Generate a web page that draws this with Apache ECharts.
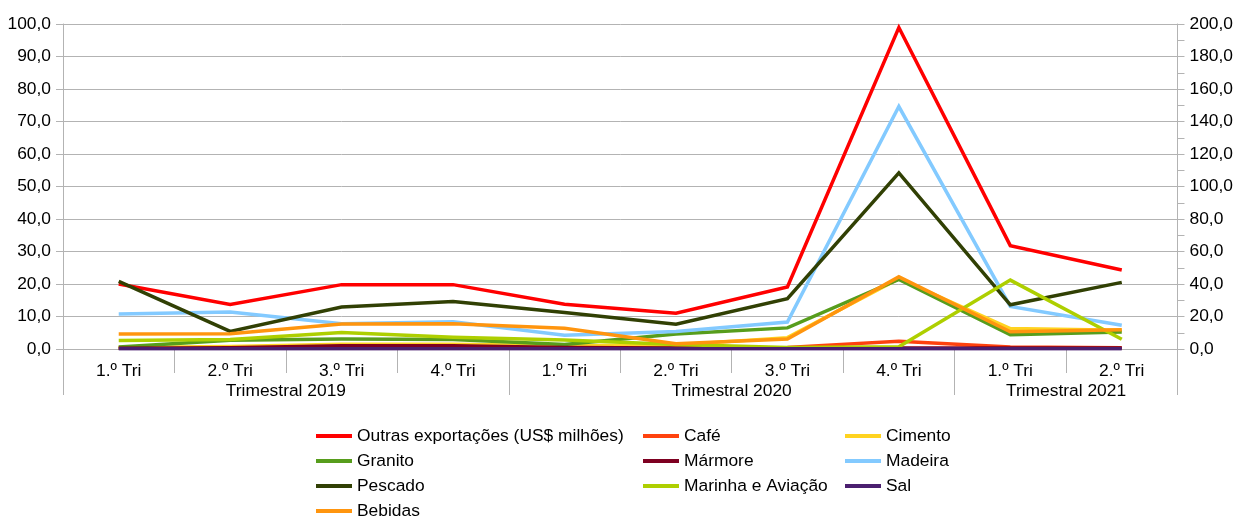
<!DOCTYPE html>
<html>
<head>
<meta charset="utf-8">
<script src="https://cdn.jsdelivr.net/npm/echarts@6/dist/echarts.min.js"></script>
<style>
  html, body { margin: 0; padding: 0; background: #fff; }
  #chart { width: 1236px; height: 518px; }
</style>
</head>
<body>
<div id="chart"></div>
<script>
// Quarters on the x axis, grouped by year
const quarters = ['1.º Tri', '2.º Tri', '3.º Tri', '4.º Tri', '1.º Tri', '2.º Tri', '3.º Tri', '4.º Tri', '1.º Tri', '2.º Tri'];
const yearGroups = ['Trimestral 2019', 'Trimestral 2020', 'Trimestral 2021'];
const quartersPerGroup = [4, 4, 2];

// Export values per product
const outras   = [20.0, 13.7, 19.8, 19.8, 13.8, 11.0, 19.1, 98.9, 31.8, 24.3];
const cafe     = [0.3, 0.3, 0.5, 0.5, 0.4, 0.3, 0.5, 2.4, 0.6, 0.4];
const cimento  = [0.5, 0.8, 1.5, 1.5, 1.0, 1.2, 3.5, 21.6, 6.3, 5.8];
const granito  = [0.6, 2.7, 3.1, 2.9, 1.4, 4.6, 6.5, 21.4, 4.4, 5.2];
const marmore  = [0.2, 0.4, 1.0, 1.0, 0.5, 0.3, 0.3, 0.3, 0.3, 0.3];
const madeira  = [10.8, 11.4, 7.8, 8.4, 4.2, 5.4, 8.3, 74.6, 13.1, 7.3];
const pescado  = [20.8, 5.4, 12.9, 14.6, 11.2, 7.6, 15.5, 54.2, 13.6, 20.5];
const marinha  = [2.6, 2.9, 5.1, 3.6, 2.8, 1.4, 0.5, 0.7, 21.2, 3.0];
const sal      = [0.1, 0.1, 0.1, 0.1, 0.1, 0.1, 0.1, 0.1, 0.1, 0.1];
const bebidas  = [4.6, 4.7, 7.7, 7.8, 6.4, 1.6, 3.1, 22.2, 5.3, 5.9];

const seriesDefs = [
  ['Outras exportações (US$ milhões)', outras, '#ff0000'],
  ['Café', cafe, '#ff420e'],
  ['Cimento', cimento, '#ffd320'],
  ['Granito', granito, '#579d1c'],
  ['Mármore', marmore, '#7e0021'],
  ['Madeira', madeira, '#83caff'],
  ['Pescado', pescado, '#314004'],
  ['Marinha e Aviação', marinha, '#aecf00'],
  ['Sal', sal, '#4b1f6f'],
  ['Bebidas', bebidas, '#ff950e']
];

// Boundaries and centres of the year groups on a 0..n scale
const groupEdges = [0];
quartersPerGroup.forEach(n => groupEdges.push(groupEdges[groupEdges.length - 1] + n));
const groupCentres = quartersPerGroup.map((n, i) => groupEdges[i] + n / 2);

const gridColor = '#b3b3b3';
const font = { fontFamily: 'Liberation Sans, Arial, sans-serif', fontSize: 17.4, color: '#000' };
const fmt = v => v.toFixed(1).replace('.', ',');

const legendBase = {
  orient: 'vertical',
  top: 427,
  padding: 0,
  itemWidth: 36,
  itemHeight: 4,
  itemGap: 7,
  icon: 'rect',
  textStyle: Object.assign({}, font, { lineHeight: 18 }),
  selectedMode: false
};

const chart = echarts.init(document.getElementById('chart'), null, { renderer: 'canvas' });
chart.setOption({
  animation: false,
  backgroundColor: '#fff',
  grid: { left: 63, right: 57, top: 24, bottom: 169, containLabel: false },
  legend: [
    Object.assign({}, legendBase, { left: 316, data: ['Outras exportações (US$ milhões)', 'Granito', 'Pescado'] }),
    Object.assign({}, legendBase, { left: 316, top: 502, data: ['Bebidas'] }),
    Object.assign({}, legendBase, { left: 643, data: ['Café', 'Mármore', 'Marinha e Aviação'] }),
    Object.assign({}, legendBase, { left: 845, data: ['Cimento', 'Madeira', 'Sal'] })
  ],
  xAxis: [
    {
      type: 'category',
      data: quarters,
      boundaryGap: true,
      axisLine: { show: true, lineStyle: { color: gridColor } },
      axisTick: { show: true, interval: 0, length: 24, lineStyle: { color: gridColor } },
      axisLabel: Object.assign({}, font, { interval: 0, margin: 14 }),
      splitLine: { show: false }
    },
    {
      type: 'value',
      min: 0,
      max: groupEdges[groupEdges.length - 1],
      position: 'bottom',
      axisLine: { show: false },
      splitLine: { show: false },
      axisTick: { show: true, customValues: groupEdges, length: 46, lineStyle: { color: gridColor } },
      axisLabel: Object.assign({}, font, {
        customValues: groupCentres,
        margin: 34,
        formatter: v => yearGroups[groupCentres.indexOf(v)] || ''
      })
    }
  ],
  yAxis: [
    {
      type: 'value',
      min: 0, max: 100, interval: 10,
      axisLine: { show: true, lineStyle: { color: gridColor } },
      axisTick: { show: true, length: 7, lineStyle: { color: gridColor } },
      splitLine: { show: true, lineStyle: { color: gridColor, width: 1 } },
      axisLabel: Object.assign({}, font, { margin: 12, formatter: fmt })
    },
    {
      type: 'value',
      position: 'right',
      min: 0, max: 200, interval: 20,
      axisLine: { show: true, lineStyle: { color: gridColor } },
      axisTick: { show: true, length: 7, lineStyle: { color: gridColor } },
      minorTick: { show: true, splitNumber: 2, length: 7, lineStyle: { color: gridColor } },
      splitLine: { show: false },
      axisLabel: Object.assign({}, font, { margin: 12, formatter: fmt })
    }
  ],
  series: seriesDefs.map(([name, values, color]) => ({
    name,
    type: 'line',
    xAxisIndex: 0,
    yAxisIndex: 0,
    data: values,
    symbol: 'none',
    color,
    lineStyle: { color, width: 3.5, join: 'miter' },
    emphasis: { disabled: true }
  }))
});
</script>
</body>
</html>
